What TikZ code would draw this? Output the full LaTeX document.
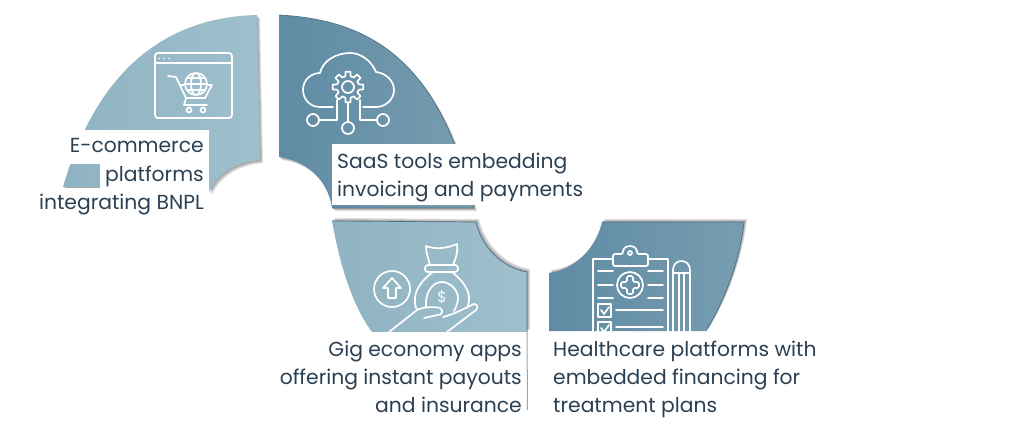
\documentclass[tikz,border=0pt]{standalone}
\usepackage{fontspec}
\setmainfont{Poppins}

\definecolor{inkblue}{HTML}{2B4052}
\definecolor{lightL}{HTML}{8FB3C3}
\definecolor{lightR}{HTML}{9FBFCC}
\definecolor{darkL}{HTML}{5F8BA4}
\definecolor{darkR}{HTML}{779DB0}
\definecolor{rimblue}{HTML}{4F7083}

% the four petals
\newcommand{\petalEcom}{(257,15) .. controls (175,17) and (100,60) .. (63,187) -- (209,187) -- (209,192)
    .. controls (218,172) and (238,162) .. (260,160) -- cycle}
\newcommand{\petalSaas}{(279,15) .. controls (370,20) and (440,60) .. (474,208) -- (332,208)
    .. controls (328,180) and (306,160) .. (279,157) -- cycle}
\newcommand{\petalGig}{(332,221) -- (476,222) .. controls (482,248) and (503,268) .. (527,272)
    -- (527,332) -- (372,332) .. controls (352,305) and (340,265) .. (332,221) -- cycle}
\newcommand{\petalCare}{(602,222) -- (744,222) .. controls (740,260) and (725,300) .. (706,331)
    -- (549,331) -- (549,273) .. controls (575,270) and (596,248) .. (602,222) -- cycle}

\tikzset{
    lightpetal/.style={left color=lightL, right color=lightR},
    darkpetal/.style={left color=darkL, right color=darkR},
    softshadow/.style={fill=black, opacity=0.13},
    rim/.style={draw=rimblue, line width=0.7pt},
    icon/.style={draw=white, line width=1.7pt, line join=round, line cap=round},
    textbox/.style={fill=white, text=inkblue, inner xsep=5pt, inner ysep=0pt,
        font=\fontsize{20.3}{28}\selectfont},
    textline/.style={textbox, anchor=east, text height=17pt, text depth=6pt}
}

\begin{document}
\begin{tikzpicture}[x=1pt, y=-1pt]
    \useasboundingbox (0,0) rectangle (1024,434);

    % draw soft shadows
    \foreach \s in {1,2,3} {
        \fill[softshadow, shift={(\s,\s)}] \petalEcom;
        \fill[softshadow, shift={(\s,\s)}] \petalSaas;
        \fill[softshadow, shift={(\s,-\s)}] \petalGig;
        \fill[softshadow, shift={(\s,-\s)}] \petalCare;
    }

    % draw petals
    \shade[lightpetal] \petalEcom;
    \shade[darkpetal] \petalSaas;
    \shade[lightpetal] \petalGig;
    \shade[darkpetal] \petalCare;

    % draw darker rims
    \draw[rim] (279,15) .. controls (370,20) and (440,60) .. (474,208) -- (332,208);
    \draw[rim] (332,221) -- (476,222) .. controls (482,248) and (503,268) .. (527,272) -- (527,332);
    \draw[rim] (602,222) -- (744,222) .. controls (740,260) and (725,300) .. (706,331);

    % shop window icon
    \draw[icon, rounded corners=3pt] (155,118) -- (155,53) -- (232,53) -- (232,118) -- cycle;
    \draw[icon] (155,63) -- (232,63);
    \foreach \x in {159,164,169}
        \fill[white] (\x,58.5) circle (0.9);
    \draw[icon] (168,76) -- (176,77) -- (186,98) -- (205,98) -- (212,85) -- (208,85);
    \draw[icon] (180,85) -- (184,85);
    \draw[icon] (186,98) -- (184,105) -- (207,105);
    \foreach \x in {189,203}
        \draw[icon] (\x,110) circle (2.5);
    \draw[icon] (196,84) circle (11);
    \draw[icon] (196,84) ellipse (5 and 11);
    \draw[icon] (185,84) -- (207,84) (187,78) -- (205,78) (187,90) -- (205,90);

    % cloud icon
    \draw[icon] (333,107) -- (320,107) .. controls (309,107) and (303,98) .. (303,90)
        .. controls (303,79) and (312,73) .. (320,73) .. controls (323,60) and (337,53) .. (350,53)
        .. controls (362,53) and (372,62) .. (376,72) .. controls (386,73) and (394,81) .. (394,90)
        .. controls (394,99) and (386,107) .. (376,107) -- (363,107);
    \draw[icon] ([shift={(-14:11)}]348,87)
        \foreach \a in {0,45,...,315} {
            -- ([shift={(\a-14:11)}]348,87) -- ([shift={(\a-9:15.5)}]348,87)
            -- ([shift={(\a+9:15.5)}]348,87) -- ([shift={(\a+14:11)}]348,87)
        } -- cycle;
    \draw[icon] (348,87) circle (6);
    \draw[icon] (348,103) -- (348,122);
    \draw[icon] (348,128) circle (6);
    \draw[icon] (337,100) -- (337,120) -- (319,120);
    \draw[icon] (313,120) circle (6);
    \draw[icon] (360,100) -- (360,120) -- (377,120);
    \draw[icon] (383,120) circle (6);

    % money bag icon
    \draw[icon] (392,289) circle (18);
    \draw[icon] (392,278) -- (401,288) -- (396,288) -- (396,298) -- (388,298) -- (388,288) -- (383,288) -- cycle;
    \draw[icon] (430,265) .. controls (428,258) and (426,252) .. (426,246) .. controls (436,250) and (448,248) .. (457,244)
        .. controls (458,252) and (456,258) .. (453,265);
    \draw[icon, rounded corners=3pt] (425,265) rectangle (458,272);
    \draw[icon] (433,272) .. controls (422,280) and (414,290) .. (415,302) .. controls (415,306) and (416,308) .. (417,310);
    \draw[icon] (452,272) .. controls (462,280) and (470,290) .. (469,300) .. controls (469,303) and (468,306) .. (467,308);
    \draw[icon] (426,307) .. controls (425,290) and (434,282) .. (442,282) .. controls (450,282) and (458,290) .. (458,298)
        .. controls (458,303) and (456,307) .. (454,311);
    \node[text=white, font=\fontsize{15}{15}\selectfont, inner sep=0pt] (dollar) at (442,297) {\$};
    \draw[icon] (389,332) -- (417,310) .. controls (425,306) and (437,307) .. (440,308)
        .. controls (444,310) and (442,315) .. (438,315) -- (424,318);
    \draw[icon] (443,317) .. controls (455,314) and (465,308) .. (474,304) .. controls (478,304) and (478,308) .. (476,310)
        -- (447,332);

    % clipboard icon
    \draw[icon] (593,335) -- (593,259) -- (613,259) (648,259) -- (668,259) -- (668,335);
    \draw[icon, rounded corners=2pt] (613,266) -- (613,254) -- (623,254)
        .. controls (623,244) and (637,244) .. (637,254) -- (648,254) -- (648,266) -- cycle;
    \draw[icon] (630,253) circle (2);
    \draw[icon] (630,285) circle (13);
    \draw[icon, rounded corners=1.5pt] (627,276) -- (633,276) -- (633,282) -- (639,282) -- (639,288) -- (633,288)
        -- (633,294) -- (627,294) -- (627,288) -- (621,288) -- (621,282) -- (627,282) -- cycle;
    \foreach \y in {271,285,298} {
        \draw[icon] (598,\y) -- (613,\y);
        \draw[icon] (648,\y) -- (663,\y);
    }
    \foreach \y/\h in {304/317, 322/335} {
        \draw[icon] (598,\y) rectangle (611,\h);
        \draw[icon] (601,\y+6) -- (604,\y+10) -- (609,\y+3);
    }
    \foreach \y in {310,327}
        \draw[icon] (616,\y) -- (663,\y);
    \draw[icon] (673,335) -- (673,270) .. controls (673,258) and (690,258) .. (690,270) -- (690,335);
    \draw[icon] (673,273) -- (690,273);
    \draw[icon] (679,273) -- (679,335) (684,273) -- (684,335);

    % draw labels
    \node[textline, minimum width=144pt, minimum height=34pt] (ecomA) at (209,147) {E-commerce};
    \node[textline, minimum width=107pt, minimum height=24pt] (ecomB) at (209,175.5) {platforms};
    \node[textline, minimum height=32pt] (ecomC) at (209,203.5) {integrating BNPL};

    \fill[white] (332,144) rectangle (590,205);
    \node[textbox, fill=none, anchor=north west, align=left, minimum height=61pt] (saas) at (332,147)
        {SaaS tools embedding\\invoicing and payments};
    \node[textbox, anchor=north east, align=right, minimum height=90pt] (gig) at (527,332)
        {Gig economy apps\\offering instant payouts\\and insurance};
    \node[textbox, anchor=north west, align=left, minimum height=94pt, inner xsep=4pt] (care) at (549,332)
        {Healthcare platforms with\\embedded financing for\\treatment plans};

    \draw[black!35, line width=1pt] (gig.north east) -- ++(0.5,78);
\end{tikzpicture}
\end{document}
